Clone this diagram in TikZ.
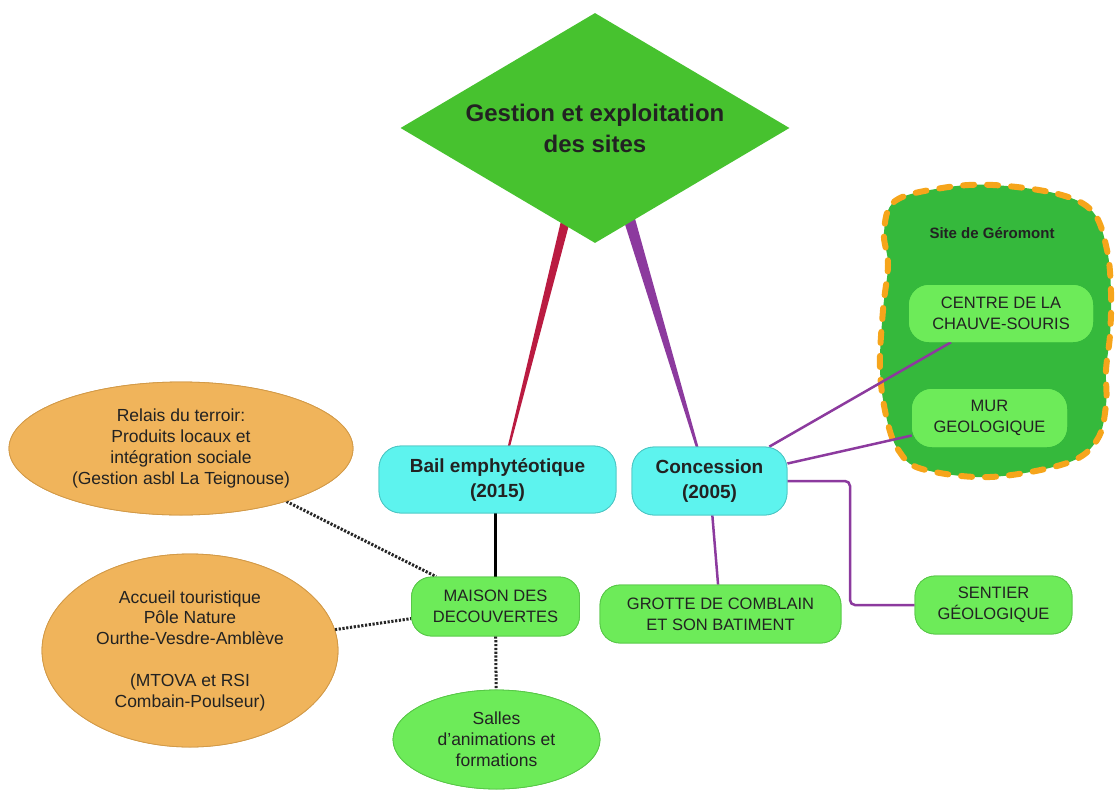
\documentclass[tikz,border=0pt]{standalone}
\usepackage{fontspec}
\setmainfont{Liberation Sans}
\usetikzlibrary{shapes.geometric}
\definecolor{diagreen}{HTML}{47C22F}
\definecolor{cyanf}{HTML}{5DF3EE}
\definecolor{cyand}{HTML}{4CC6C3}
\definecolor{lgreen}{HTML}{6DEB59}
\definecolor{lgreend}{HTML}{57C747}
\definecolor{blobf}{HTML}{35B93C}
\definecolor{bloborange}{HTML}{F6A51B}
\definecolor{orangef}{HTML}{F0B45B}
\definecolor{oranged}{HTML}{D29A48}
\definecolor{redl}{HTML}{BA1B41}
\definecolor{purplel}{HTML}{8C3A9E}
\definecolor{txt}{HTML}{222222}
\tikzset{
  box/.style={rectangle, rounded corners=20pt, align=center, inner sep=0pt, text=txt},
  cyanbox/.style={box, rounded corners=22pt, fill=cyanf, draw=cyand, line width=0.8pt, font=\bfseries\fontsize{19}{25}\selectfont},
  greenbox/.style={box, fill=lgreen, draw=lgreend, line width=0.8pt, font=\fontsize{16.5}{21}\selectfont},
  innerbox/.style={box, fill=lgreen, font=\fontsize{16.5}{21}\selectfont},
  orangeell/.style={ellipse, fill=orangef, draw=oranged, line width=0.8pt, align=center, inner sep=0pt, text=txt, font=\fontsize{17.5}{20.8}\selectfont},
  greenell/.style={ellipse, fill=lgreen, draw=lgreend, line width=0.8pt, align=center, inner sep=0pt, text=txt, font=\fontsize{17.5}{21}\selectfont},
  thinpurple/.style={draw=purplel, line width=2.5pt},
  dotline/.style={draw=black!85, line width=3pt, dash pattern=on 2.2pt off 1.6pt},
  blobline/.style={draw=bloborange, fill=blobf, line width=6pt, dash pattern=on 11pt off 13pt, line cap=round},
}
\begin{document}
\begin{tikzpicture}[x=1pt,y=-1pt]
\useasboundingbox (0,0) rectangle (1116,790);

% blob for Site de Geromont
\draw[blobline] plot[smooth cycle, tension=0.6] coordinates {
  (993,185) (1058,194) (1093,212) (1107,250) (1111,292) (1110,335) (1106,370)
  (1106,405) (1097,440) (1067,463) (990,477) (922,469) (899,451) (887,420)
  (880,370) (883,310) (888,265) (884,232) (895,201) (942,188)};

% tapered main connectors
\coordinate (rtop) at (567,215);
\coordinate (rbot) at (508,450);
\coordinate (ptop) at (628,215);
\coordinate (pbot) at (698,450);
\fill[redl] ([xshift=-4.6pt]rtop) -- ([xshift=4.6pt]rtop) -- ([xshift=1.1pt]rbot) -- ([xshift=-1.1pt]rbot) -- cycle;
\fill[purplel] ([xshift=-6pt]ptop) -- ([xshift=6pt]ptop) -- ([xshift=1.3pt]pbot) -- ([xshift=-1.3pt]pbot) -- cycle;

% diamond
\node[diamond, fill=diagreen, minimum width=389pt, minimum height=230pt, aspect=1.69, inner sep=0pt,
      align=center, text=txt, font=\bfseries\fontsize{24}{31}\selectfont] (main) at (595,128)
      {Gestion et exploitation\\des sites};

% nodes
\node[cyanbox, minimum width=237pt, minimum height=67pt] (bail) at (497.5,479.5) {Bail emphytéotique\\(2015)};
\node[cyanbox, minimum width=155pt, minimum height=68pt] (conc) at (709.5,481) {Concession\\(2005)};
\node[greenbox, minimum width=168pt, minimum height=59pt] (maison) at (495.5,606.5) {MAISON DES\\DECOUVERTES};
\node[greenbox, minimum width=241pt, minimum height=58pt] (grotte) at (720.5,614) {GROTTE DE COMBLAIN\\ET SON BATIMENT};
\node[greenbox, minimum width=157pt, minimum height=58pt] (sentier) at (993.5,605) {SENTIER\\GÉOLOGIQUE};
\node[innerbox, minimum width=184pt, minimum height=57pt] (centre) at (1001,313.5) {CENTRE DE LA\\CHAUVE-SOURIS};
\node[innerbox, minimum width=155pt, minimum height=58pt] (mur) at (989.5,418) {MUR\\GEOLOGIQUE};
\node[text=txt, font=\bfseries\fontsize{15}{18}\selectfont] (site) at (992,233) {Site de Géromont};

\node[orangeell, minimum width=344pt, minimum height=133pt] (relais) at (181,448.5)
  {Relais du terroir:\\Produits locaux et\\intégration sociale\\(Gestion asbl La Teignouse)};
\node[orangeell, minimum width=296pt, minimum height=193pt] (accueil) at (190,650.5)
  {Accueil touristique\\Pôle Nature\\Ourthe-Vesdre-Amblève\\[20.8pt](MTOVA et RSI\\Combain-Poulseur)};
\node[greenell, minimum width=207pt, minimum height=99pt] (salles) at (496.5,739.5)
  {Salles\\d’animations et\\formations};

% connectors
\draw[black, line width=2.5pt] (maison.north) -- (maison.north |- bail.south);
\draw[thinpurple] (conc) -- (grotte);
\draw[thinpurple] (conc) -- (centre);
\draw[thinpurple] (conc) -- (mur);
\coordinate (bend) at (850,481);
\draw[thinpurple, rounded corners=5pt] (conc.east) -- (bend) |- (sentier.west);
\draw[dotline] (relais) -- (maison);
\draw[dotline] (accueil) -- (maison);
\draw[dotline] (maison) -- (salles);

% redraw nodes on top of connectors
\node[cyanbox, minimum width=237pt, minimum height=67pt] at (bail) {Bail emphytéotique\\(2015)};
\node[cyanbox, minimum width=155pt, minimum height=68pt] at (conc) {Concession\\(2005)};
\node[greenbox, minimum width=168pt, minimum height=59pt] at (maison) {MAISON DES\\DECOUVERTES};
\node[greenbox, minimum width=241pt, minimum height=58pt] at (grotte) {GROTTE DE COMBLAIN\\ET SON BATIMENT};
\node[greenbox, minimum width=157pt, minimum height=58pt] at (sentier) {SENTIER\\GÉOLOGIQUE};
\node[innerbox, minimum width=184pt, minimum height=57pt] at (centre) {CENTRE DE LA\\CHAUVE-SOURIS};
\node[innerbox, minimum width=155pt, minimum height=58pt] at (mur) {MUR\\GEOLOGIQUE};
\node[orangeell, minimum width=344pt, minimum height=133pt] at (relais)
  {Relais du terroir:\\Produits locaux et\\intégration sociale\\(Gestion asbl La Teignouse)};
\node[orangeell, minimum width=296pt, minimum height=193pt] at (accueil)
  {Accueil touristique\\Pôle Nature\\Ourthe-Vesdre-Amblève\\[20.8pt](MTOVA et RSI\\Combain-Poulseur)};
\node[greenell, minimum width=207pt, minimum height=99pt] at (salles)
  {Salles\\d’animations et\\formations};
\end{tikzpicture}
\end{document}
